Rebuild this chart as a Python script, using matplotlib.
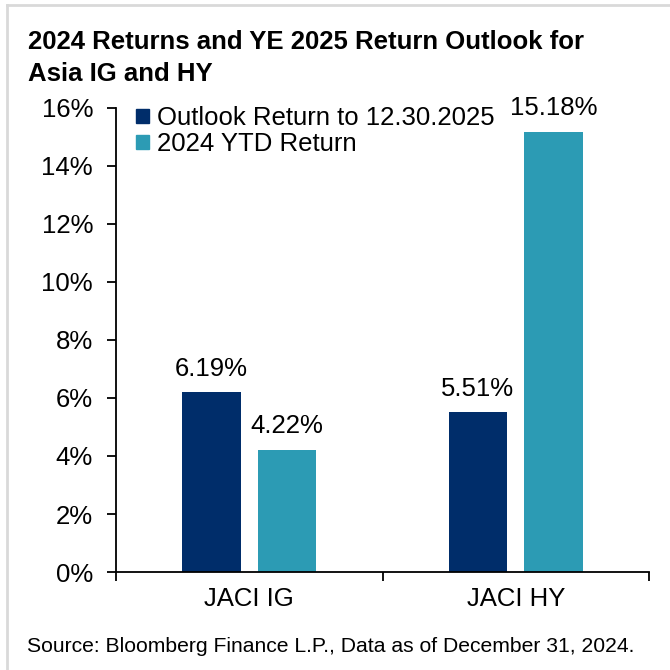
import matplotlib
matplotlib.use("Agg")
import matplotlib.pyplot as plt
from matplotlib.lines import Line2D
from matplotlib.patches import Patch
import numpy as np

plt.rcParams['font.family'] = ['Liberation Sans', 'DejaVu Sans']

categories = ["JACI IG", "JACI HY"]
series_names = ["Outlook Return to 12.30.2025", "2024 YTD Return"]
outlook = [6.19, 5.51]
ytd = [4.22, 15.18]
yticks = [0, 2, 4, 6, 8, 10, 12, 14, 16]
colors = ["#002D6A", "#2C9BB4"]
title_lines = ["2024 Returns and YE 2025 Return Outlook for", "Asia IG and HY"]
source = "Source: Bloomberg Finance L.P., Data as of December 31, 2024."

FS = 18.5
H = 670.0
fig = plt.figure(figsize=(6.7, 6.7), dpi=100)
ax = fig.add_axes([116/H, 98/H, 533/H, 464/H])

x = np.arange(len(categories))
w = 0.22
off = 0.142
b1 = ax.bar(x - off, outlook, w, color=colors[0], label=series_names[0])
b2 = ax.bar(x + off, ytd, w, color=colors[1], label=series_names[1])

for bars, vals in ((b1, outlook), (b2, ytd)):
    for rect, v in zip(bars, vals):
        ax.annotate(f"{v:.2f}%", (rect.get_x() + rect.get_width()/2, v),
                    xytext=(0, 12), textcoords="offset points",
                    ha="center", va="baseline", fontsize=FS)

ax.set_xlim(-0.5, 1.5)
ax.set_ylim(0, 16)
ax.set_yticks(yticks)
ax.set_yticklabels([f"{t}%" for t in yticks], fontsize=FS)
ax.set_xticks([-0.5, 0.5, 1.5])
ax.set_xticklabels([])
ax.set_xticks(x, minor=True)
ax.set_xticklabels(categories, minor=True, fontsize=FS)
ax.tick_params(axis='x', which='minor', length=0, pad=11)
ax.tick_params(axis='x', which='major', length=6.5, width=1.3, direction='out')
ax.tick_params(axis='y', length=6.5, width=1.3, direction='out', pad=10)
for s in ("top", "right"):
    ax.spines[s].set_visible(False)
ax.spines["left"].set_linewidth(1.3)
ax.spines["bottom"].set_linewidth(1.3)

handles = [Patch(color=colors[0]), Patch(color=colors[1])]
ax.legend(handles, series_names, loc="upper left", bbox_to_anchor=(20/533, 1.004),
          frameon=False, fontsize=FS, handlelength=0.5, handleheight=0.5,
          handletextpad=0.3, labelspacing=0.08, borderaxespad=0, borderpad=0)

fig.text(28/H, 1 - 49/H, title_lines[0], fontsize=18.5, fontweight="bold",
         ha="left", va="baseline")
fig.text(28/H, 1 - 81/H, title_lines[1], fontsize=18.5, fontweight="bold",
         ha="left", va="baseline")
fig.text(27/H, 1 - 652/H, source, fontsize=15.2, ha="left", va="baseline")

fig.add_artist(Line2D([7/H, 7/H], [0, 1 - 5/H], transform=fig.transFigure,
                      color="#d9d9d9", lw=2))
fig.add_artist(Line2D([7/H, 1], [1 - 5/H, 1 - 5/H], transform=fig.transFigure,
                      color="#d9d9d9", lw=2))

fig.savefig("out.png", dpi=100)
